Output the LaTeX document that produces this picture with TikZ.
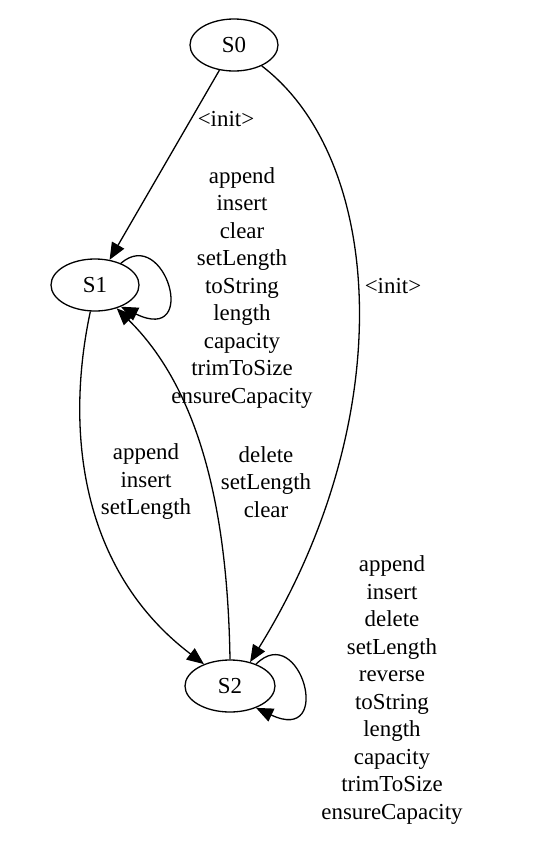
\documentclass[tikz,border=0pt]{standalone}
\usepackage{fontspec}
\setmainfont{Liberation Serif}
\usetikzlibrary{shapes.geometric,arrows.meta,positioning}

\begin{document}
\begin{tikzpicture}[x=1pt, y=-1pt,
    stnode/.style={ellipse, draw, line width=1.3pt, minimum width=88pt, minimum height=52pt, inner sep=0pt, font=\fontsize{22.9}{27.5}\selectfont},
    lbl/.style={align=center, inner sep=0pt, font=\fontsize{22.9}{27.5}\selectfont},
    trans/.style={-{Triangle[length=17pt, width=14pt]}, line width=1.3pt}]
    \useasboundingbox (0,0) rectangle (556,855);

    % States
    \node[stnode] (S0) at (234,45) {S0};
    \node[stnode] (S1) at (95,285) {S1};
    \node[stnode, minimum width=90pt] (S2) at (230,686) {S2};

    % S0 -> S1, S0 -> S2
    \draw[trans] (S0) -- (S1);
    \node[lbl] (i01) at (226,119) {<init>};
    \draw[trans] (S0.-37) .. controls (385,160) and (400,420) .. (S2.50);
    \node[lbl] (i02) at (393,286) {<init>};

    % S1 self loop
    \draw[trans] (S1.40) .. controls (165,225) and (200,345) .. (S1.-40);
    \node[lbl] (l11) at (242,288) {append\\insert\\clear\\setLength\\toString\\length\\capacity\\trimToSize\\ensureCapacity};

    % S1 <-> S2
    \draw[trans] (S1.-100) .. controls (65,430) and (80,570) .. (S2.140);
    \node[lbl] (l12) at (146,482) {append\\insert\\setLength};
    \draw[trans] (S2.90) .. controls (228,540) and (210,400) .. (S1.-47);
    \node[lbl] (l21) at (266,482) {delete\\setLength\\clear};

    % S2 self loop
    \draw[trans] (S2.40) .. controls (300,620) and (335,745) .. (S2.-40);
    \node[lbl] (l22) at (392,690) {append\\insert\\delete\\setLength\\reverse\\toString\\length\\capacity\\trimToSize\\ensureCapacity};
\end{tikzpicture}
\end{document}
